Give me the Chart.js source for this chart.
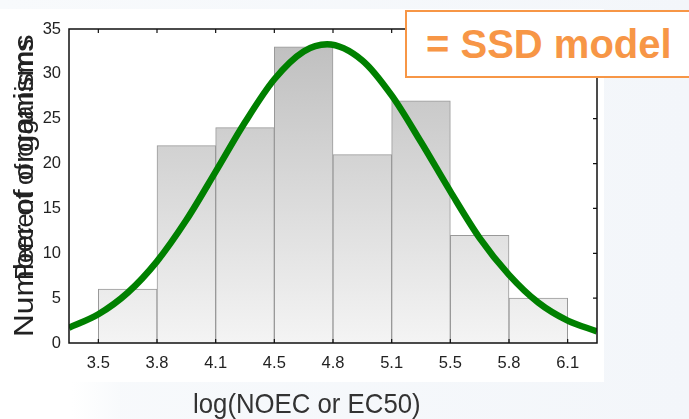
<!DOCTYPE html>
<html>
<head>
<meta charset="utf-8">
<script src="https://cdn.jsdelivr.net/npm/chart.js@4.4.1/dist/chart.umd.min.js"></script>
<style>
  html, body { margin: 0; padding: 0; }
  body {
    width: 689px; height: 419px; position: relative; overflow: hidden;
    background: linear-gradient(90deg, #f8fafc 0%, #f3f6fa 100%);
    font-family: "Liberation Sans", Arial, sans-serif;
  }
  .panel { position: absolute; left: 0; top: 9px; width: 604px; height: 373px; background: #fff; }
  .panel2 { position: absolute; left: 0; top: 382px; width: 120px; height: 37px; background: linear-gradient(90deg, #fff 60%, #f8fafc 100%); }
  #wrap { position: absolute; left: 0; top: 0; width: 689px; height: 419px; }
  .ylab {
    position: absolute; left: 25px; white-space: nowrap; color: #222;
    transform-origin: 0 0;
  }
  .xlab {
    position: absolute; left: 193px; top: 388px; font-size: 28px; color: #333;
    white-space: nowrap; transform-origin: 0 0; transform: scaleX(0.92);
  }
  .ssd {
    position: absolute; left: 405px; top: 10px; width: 330px; height: 64px;
    border: 2px solid #f79646; background: #fff; box-sizing: content-box;
  }
  .ssd span {
    position: absolute; left: 19px; top: 9px; font-weight: bold; font-size: 40px;
    color: #f79646; line-height: 46px; white-space: nowrap;
  }
</style>
</head>
<body>
<div class="panel"></div>
<div class="panel2"></div>
<div id="wrap"><canvas id="chart" width="689" height="419"></canvas></div>
<div class="ylab" id="lab1">Number of organisms</div>
<div class="ylab" id="lab2">Percent of organisms</div>
<div class="xlab">log(NOEC or EC50)</div>
<div class="ssd"><span>= SSD model</span></div>

<script>
// bin edge labels on the x axis
const edgeLabels = ['3.5', '3.8', '4.1', '4.5', '4.8', '5.1', '5.5', '5.8', '6.1'];
// counts per bin
const counts = [6, 22, 24, 33, 21, 27, 12, 5];
// fitted curve, positions in bin units (0 = first edge)
const curveX = [-0.5, 0, 0.5, 1, 1.5, 2, 2.5, 3, 3.5, 3.9, 4.5, 5, 5.5, 6, 6.5, 7, 7.5, 8, 8.5];
const curveY = [1.7, 3.2, 5.6, 9.1, 13.7, 19.1, 24.6, 29.4, 32.5, 33.3, 31.5, 27.6, 22.4, 16.9, 11.7, 7.6, 4.5, 2.5, 1.3];
const yTicks = [0, 5, 10, 15, 20, 25, 30, 35];

// rotated axis titles
function placeYLabel(id, size, scale, centerY) {
  const el = document.getElementById(id);
  el.style.fontSize = size + 'px';
  el.style.lineHeight = size + 'px';
  const w = el.offsetWidth * scale;
  el.style.top = (centerY + w / 2) + 'px';
  el.style.left = (24 - size / 2) + 'px';
  el.style.transform = 'rotate(-90deg) scaleX(' + scale + ')';
}
placeYLabel('lab1', 28, 1.13, 186);
placeYLabel('lab2', 25, 1.02, 160);

// box frame with inward ticks
const frame = {
  id: 'frame',
  afterDraw(chart) {
    const { ctx, chartArea: a, scales } = chart;
    ctx.save();
    ctx.strokeStyle = '#111';
    ctx.lineWidth = 1.5;
    ctx.strokeRect(a.left, a.top, a.right - a.left, a.bottom - a.top);
    ctx.lineWidth = 1.2;
    ctx.beginPath();
    for (let i = 0; i < edgeLabels.length; i++) {
      const x = scales.x.getPixelForValue(i);
      ctx.moveTo(x, a.top); ctx.lineTo(x, a.top + 4);
      ctx.moveTo(x, a.bottom); ctx.lineTo(x, a.bottom - 4);
    }
    yTicks.slice(1, -1).forEach(v => {
      const y = scales.y.getPixelForValue(v);
      ctx.moveTo(a.right, y); ctx.lineTo(a.right - 4, y);
    });
    ctx.stroke();
    ctx.restore();
  }
};

function barFill(context) {
  const { ctx, chartArea } = context.chart;
  if (!chartArea) return '#dddddd';
  const g = ctx.createLinearGradient(0, chartArea.top, 0, chartArea.bottom);
  g.addColorStop(0, '#bdbdbd');
  g.addColorStop(1, '#f4f4f4');
  return g;
}

new Chart(document.getElementById('chart'), {
  type: 'bar',
  data: {
    datasets: [
      {
        type: 'line',
        data: curveX.map((x, i) => ({ x: x, y: curveY[i] })),
        borderColor: '#008000',
        borderWidth: 6.5,
        pointRadius: 0,
        cubicInterpolationMode: 'monotone',
        order: 0
      },
      {
        type: 'bar',
        data: counts.map((c, i) => ({ x: i + 0.5, y: c })),
        backgroundColor: barFill,
        borderColor: '#999999',
        borderWidth: 1,
        barPercentage: 1,
        categoryPercentage: 1,
        order: 1
      }
    ]
  },
  options: {
    responsive: false,
    animation: false,
    layout: { padding: { top: 29, right: 92, left: 0, bottom: 0 } },
    plugins: { legend: { display: false }, tooltip: { enabled: false } },
    scales: {
      x: {
        type: 'linear',
        offset: false,
        min: -0.5,
        max: 8.5,
        afterBuildTicks: s => { s.ticks = edgeLabels.map((_, i) => ({ value: i })); },
        afterFit: s => { s.height = 76; },
        ticks: {
          callback: v => edgeLabels[v],
          font: { family: 'Liberation Sans', size: 16.5 },
          color: '#222',
          padding: 11,
          maxRotation: 0
        },
        grid: { display: false, drawTicks: false },
        border: { display: false }
      },
      y: {
        min: 0,
        max: 35,
        afterBuildTicks: s => { s.ticks = yTicks.map(v => ({ value: v })); },
        afterFit: s => { s.width = 69; },
        ticks: {
          font: { family: 'Liberation Sans', size: 16.5 },
          color: '#222',
          padding: 8
        },
        grid: { display: false, drawTicks: false },
        border: { display: false }
      }
    }
  },
  plugins: [frame]
});
</script>
</body>
</html>
